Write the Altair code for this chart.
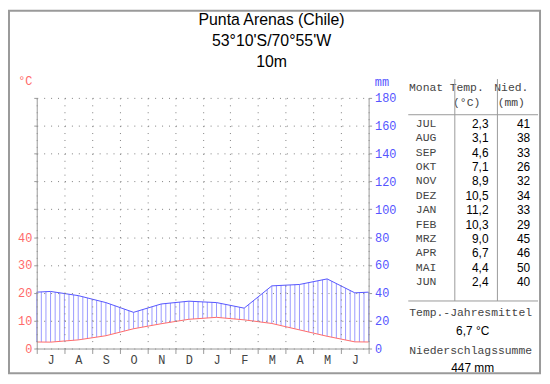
import altair as alt
import pandas as pd

# ---------------- data ----------------
station = ["Punta Arenas (Chile)", "53°10'S/70°55'W", "10m"]
month_letters = ["J", "A", "S", "O", "N", "D", "J", "F", "M", "A", "M", "J"]
month_names = ["JUL", "AUG", "SEP", "OKT", "NOV", "DEZ", "JAN", "FEB", "MRZ", "APR", "MAI", "JUN"]
temperature = [2.3, 3.1, 4.6, 7.1, 8.9, 10.5, 11.2, 10.3, 9.0, 6.7, 4.4, 2.4]
precipitation = [41, 38, 33, 26, 32, 34, 33, 29, 45, 46, 50, 40]
temp_ticks = [0, 10, 20, 30, 40, 50, 60, 70, 80, 90]
precip_ticks = [0, 20, 40, 60, 80, 100, 120, 140, 160, 180]
hatch_per_month = 6


def de(v):
    return f"{v:.1f}".replace(".", ",")


annual_mean = de(sum(temperature) / len(temperature)) + " °C"
annual_sum = f"{sum(precipitation)} mm"

table = pd.DataFrame({
    "i": list(range(12)),
    "name": month_names,
    "t": [de(v) for v in temperature],
    "p": [str(v) for v in precipitation],
})

# curve points at month centres, wrapped one month on each side (cyclic year)
curve = pd.DataFrame({
    "j": list(range(14)),
    "x": [-0.5] + [i + 0.5 for i in range(12)] + [12.5],
    "t": [temperature[-1]] + temperature + [temperature[0]],
    "p": [precipitation[-1]] + precipitation + [precipitation[0]],
})

# ---------------- style ----------------
MONO = "Liberation Mono"
SANS = "Liberation Sans"
RED = "#ff6a6a"
BLUE = "#5555ff"
HATCH = "#9a9aff"
GRAY = "#9a9a9a"
GRID = "#808080"
TXT = "#444444"

W, H = 335, 253

xscale = alt.Scale(domain=[0, 12], nice=False, zero=False)
letters_js = "[" + ",".join(f"'{m}'" for m in month_letters) + "]"

x_axis = alt.Axis(
    values=list(range(13)),
    labelExpr=f"datum.value < 12 ? {letters_js}[datum.value] : ''",
    labelOffset=14, labelFlush=False, labelOverlap=False, labelBound=False,
    grid=True, gridDash=[1, 6], gridColor=GRID, gridOpacity=1,
    tickSize=5, tickColor=GRAY, domainColor=GRAY,
    labelFont=MONO, labelFontSize=12, labelColor=TXT, labelPadding=1,
    title=None, zindex=1,
)

# hatch rules between the temperature and precipitation curves,
# interpolated by Vega along each segment of the curves
hatch = (
    alt.Chart(curve)
    .transform_window(t1="lead(t)", p1="lead(p)", sort=[alt.SortField("j")])
    .transform_filter("datum.t1 != null")
    .transform_calculate(ms=f"sequence(0, {hatch_per_month})")
    .transform_flatten(["ms"], as_=["m"])
    .transform_calculate(f=f"datum.m / {hatch_per_month}")
    .transform_calculate(xh="datum.x + datum.f")
    .transform_filter("datum.xh >= 0 && datum.xh <= 12.0001")
    .transform_calculate(
        tt="2 * (datum.t + datum.f * (datum.t1 - datum.t))",
        pp="datum.p + datum.f * (datum.p1 - datum.p)",
    )
    .mark_rule(color=HATCH, strokeWidth=1)
    .encode(
        x=alt.X("xh:Q", scale=xscale, axis=x_axis),
        y=alt.Y("pp:Q", scale=alt.Scale(domain=[0, 180], nice=False), axis=None),
        y2="tt:Q",
    )
)

precip_line = alt.Chart(curve).mark_line(color=BLUE, strokeWidth=1, clip=True).encode(
    x=alt.X("x:Q", scale=xscale, axis=x_axis),
    y=alt.Y("p:Q", scale=alt.Scale(domain=[0, 180], nice=False),
            axis=alt.Axis(orient="right", values=precip_ticks, grid=False,
                          tickSize=3, tickColor=GRAY, domainColor=GRAY,
                          labelColor=BLUE, labelFont=MONO, labelFontSize=12, labelPadding=3,
                          title="mm", titleAngle=0, titleX=13, titleY=-16,
                          titleColor=BLUE, titleFont=MONO, titleFontSize=12,
                          titleFontWeight="normal", titleAlign="center", titleBaseline="middle",
                          zindex=1)),
)

temp_line = alt.Chart(curve).mark_line(color=RED, strokeWidth=1, clip=True).encode(
    x=alt.X("x:Q", scale=xscale, axis=x_axis),
    y=alt.Y("t:Q", scale=alt.Scale(domain=[0, 90], nice=False),
            axis=alt.Axis(orient="left", values=temp_ticks,
                          labelExpr="datum.value <= 40 ? datum.label : ''",
                          grid=True, gridDash=[1, 6], gridColor=GRID, gridOpacity=1,
                          tickSize=3, tickColor=GRAY, domainColor=GRAY,
                          labelColor=RED, labelFont=MONO, labelFontSize=12, labelPadding=2,
                          title="°C", titleAngle=0, titleX=-12, titleY=-17,
                          titleColor=RED, titleFont=MONO, titleFontSize=12,
                          titleFontWeight="normal", titleAlign="center", titleBaseline="middle",
                          zindex=1)),
)

rows_y = alt.Y("i:Q", scale=alt.Scale(domain=[0, 11], range=[26.3, 186]), axis=None)
col_names = alt.Chart(table).mark_text(font=MONO, fontSize=11.5, color=TXT, align="center",
                                       baseline="middle").encode(x=alt.value(393), y=rows_y, text="name:N")
col_temp = alt.Chart(table).mark_text(font=SANS, fontSize=12, color="black", align="right",
                                      baseline="middle").encode(x=alt.value(456), y=rows_y, text="t:N")
col_prec = alt.Chart(table).mark_text(font=SANS, fontSize=12, color="black", align="right",
                                      baseline="middle").encode(x=alt.value(498), y=rows_y, text="p:N")

one = pd.DataFrame({"dummy": [0]})


def label(text, x, y, font=MONO, size=11.5, color=TXT):
    return alt.Chart(one).mark_text(font=font, fontSize=size, color=color, align="center",
                                    baseline="middle").encode(
        x=alt.value(x), y=alt.value(y), text=alt.value(text))


def line(x, x2, y, y2, color=GRAY, width=1):
    return alt.Chart(one).mark_rule(color=color, strokeWidth=width).encode(
        x=alt.value(x), x2=alt.value(x2), y=alt.value(y), y2=alt.value(y2))


labels = [
    label(station[0], 237, -78.5, font=SANS, size=16, color="black"),
    label(station[1], 237, -57, font=SANS, size=16, color="black"),
    label(station[2], 237, -36, font=SANS, size=16, color="black"),
    label("Monat", 393, -10),
    label("Temp.", 434, -10),
    label("(°C)", 434, 5),
    label("Nied.", 479, -10),
    label("(mm)", 479, 5),
    label("Temp.-Jahresmittel", 438, 217),
    label(annual_mean, 440, 235, font=SANS, size=12, color="black"),
    label("Niederschlagssumme", 438, 256),
    label(annual_sum, 440, 273, font=SANS, size=12, color="black"),
]

lines = [
    line(375, 506, 17, 17),
    line(375, 506, 205, 205),
    line(422, 422, -19, 205),
    line(465, 465, -19, 205),
]

frame = alt.Chart(one).mark_rect(fill=None, stroke=GRAY, strokeWidth=2).encode(
    x=alt.value(-28), x2=alt.value(508), y=alt.value(-88), y2=alt.value(278))

chart = (
    alt.layer(hatch, precip_line, temp_line, col_names, col_temp, col_prec,
              *labels, *lines, frame)
    .resolve_scale(y="independent")
    .properties(
        width=W, height=H,
        autosize=alt.AutoSizeParams(type="none"),
        padding={"left": 29, "top": 89, "right": 175, "bottom": 26},
    )
    .configure_view(stroke=None)
)

chart.save("out.html", embed_options={"renderer": "svg", "actions": False})
